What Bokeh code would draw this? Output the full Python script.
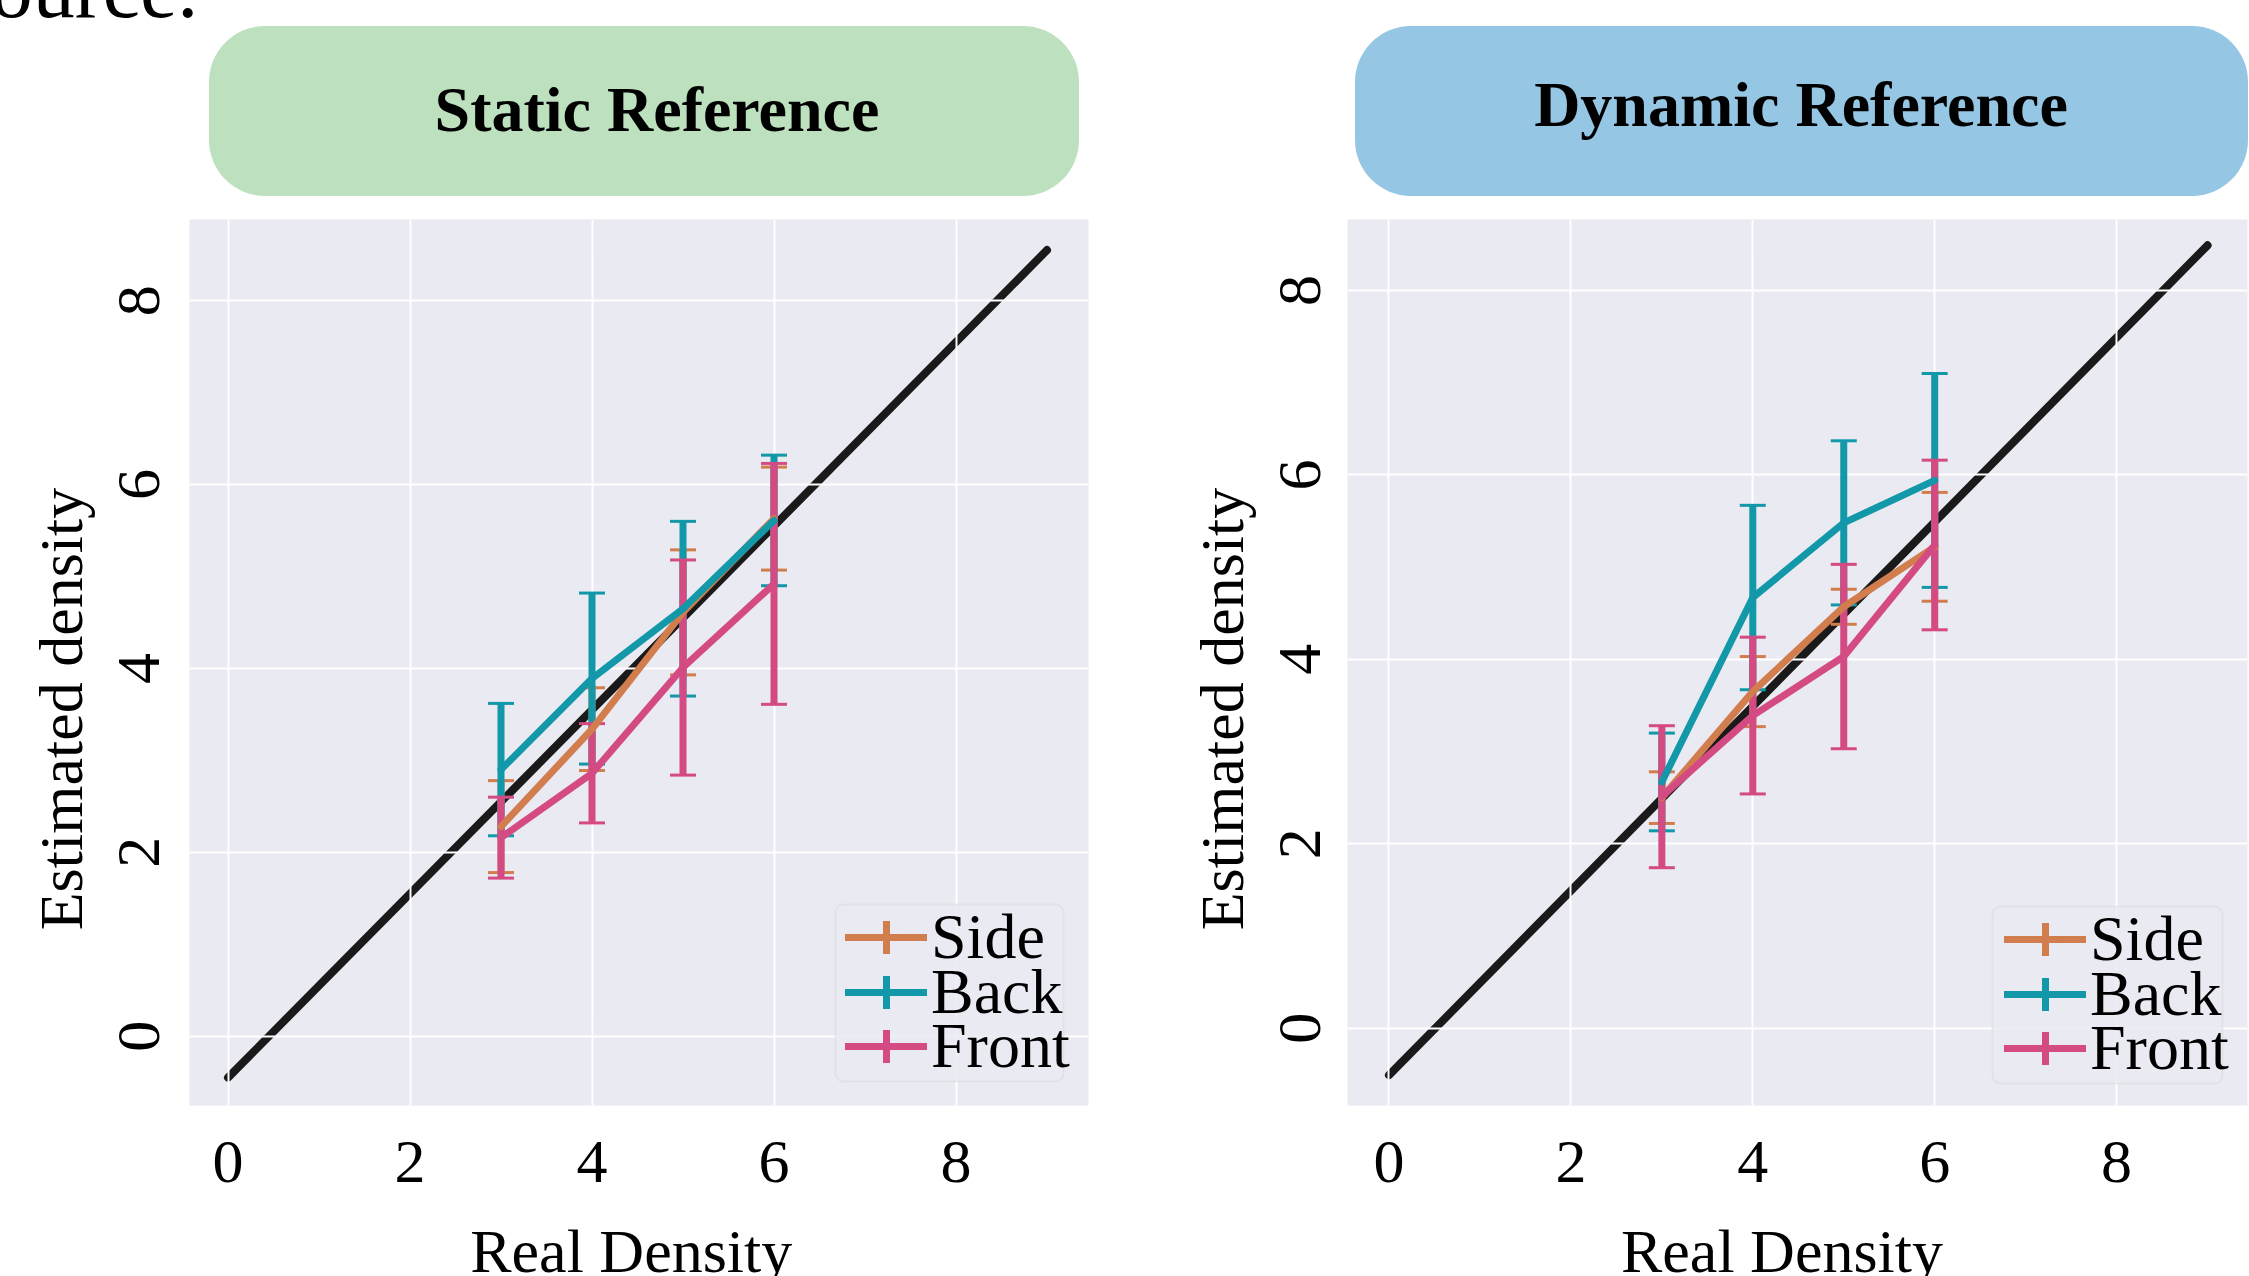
import math
from bokeh.plotting import figure
from bokeh.models import (ColumnDataSource, Whisker, TeeHead, Legend, LegendItem,
                          BoxAnnotation, Range1d, FixedTicker, Div)
from bokeh.layouts import column, row
from bokeh.embed import file_html
from bokeh.resources import INLINE

# ---------------- data ----------------
real_density = [3, 4, 5, 6]
ticks = [0, 2, 4, 6, 8]
series_names = ["Side", "Back", "Front"]

static_side_mean = [2.28, 3.34, 4.61, 5.63]
static_side_err = [0.50, 0.45, 0.68, 0.56]
static_back_mean = [2.90, 3.89, 4.65, 5.61]
static_back_err = [0.72, 0.93, 0.95, 0.71]
static_front_mean = [2.16, 2.86, 4.01, 4.92]
static_front_err = [0.44, 0.54, 1.17, 1.31]

dynamic_side_mean = [2.50, 3.65, 4.57, 5.22]
dynamic_side_err = [0.28, 0.38, 0.19, 0.59]
dynamic_back_mean = [2.67, 4.67, 5.48, 5.94]
dynamic_back_err = [0.53, 1.00, 0.89, 1.16]
dynamic_front_mean = [2.51, 3.39, 4.03, 5.24]
dynamic_front_err = [0.77, 0.85, 1.00, 0.92]

diag_x = [0, 9]
static_diag_y = [-0.45, 8.55]
dynamic_diag_y = [-0.51, 8.49]

x_label = "Real Density"
y_label = "Estimated density"

# ---------------- style ----------------
FONT = "Liberation Serif"
COLORS = {"Side": "#d27d4e", "Back": "#1298a8", "Front": "#d44a83"}
BG = "#eaeaf2"
NBSP = "\u00a0"


def make_panel(width, height, mb_left, mb_right, mb_top, mb_bottom,
               xr, yr, means, errs, diag_y, tick_standoff_y, xlabel_pad,
               legend_x, legend_ys, legend_box):
    p = figure(width=width, height=height, x_range=Range1d(*xr), y_range=Range1d(*yr),
               output_backend="svg", toolbar_location=None, tools="",
               min_border_left=mb_left, min_border_right=mb_right,
               min_border_top=mb_top, min_border_bottom=mb_bottom,
               background_fill_color=BG, border_fill_color="white",
               outline_line_color=None, margin=0)
    for ax in (p.xaxis[0], p.yaxis[0]):
        ax.ticker = FixedTicker(ticks=ticks)
        ax.axis_line_color = None
        ax.major_tick_line_color = None
        ax.minor_tick_line_color = None
        ax.major_tick_out = 0
        ax.major_tick_in = 0
        ax.major_label_text_font = FONT
        ax.major_label_text_font_size = "62px"
        ax.major_label_text_color = "black"
        ax.axis_label_text_font = FONT
        ax.axis_label_text_font_size = "62px"
        ax.axis_label_text_font_style = "normal"
        ax.axis_label_text_color = "black"
    p.xaxis[0].major_label_standoff = 36
    p.xaxis[0].axis_label = x_label + NBSP * xlabel_pad
    p.xaxis[0].axis_label_standoff = 32
    p.yaxis[0].major_label_standoff = tick_standoff_y
    p.yaxis[0].major_label_orientation = "vertical"
    p.yaxis[0].axis_label = y_label + NBSP * 6
    p.yaxis[0].axis_label_standoff = 22
    for g in (p.xgrid[0], p.ygrid[0]):
        g.ticker = FixedTicker(ticks=ticks)
        g.grid_line_color = "white"
        g.grid_line_width = 2

    # diagonal reference line
    p.line(diag_x, diag_y, line_color="#1a1a1a", line_width=8, line_cap="round", level="image")

    # error bars
    for name in series_names:
        c = COLORS[name]
        m, e = means[name], errs[name]
        src = ColumnDataSource(dict(x=real_density,
                                    lower=[a - b for a, b in zip(m, e)],
                                    upper=[a + b for a, b in zip(m, e)]))
        w = Whisker(source=src, base="x", lower="lower", upper="upper",
                    line_color=c, line_width=7,
                    upper_head=TeeHead(size=26, line_color=c, line_width=3),
                    lower_head=TeeHead(size=26, line_color=c, line_width=3),
                    level="underlay")
        p.add_layout(w)

    items = []
    for name in series_names:
        c = COLORS[name]
        lr = p.line(real_density, means[name], line_color=c, line_width=7,
                    line_cap="round", line_join="round")
        sr = p.scatter(real_density, means[name], marker="cross", size=0,
                       line_color=c, line_width=7)
        items.append(LegendItem(label=name, renderers=[lr, sr]))

    bl, br, bb, bt = legend_box
    p.add_layout(BoxAnnotation(left=bl, right=br, bottom=bb, top=bt,
                               left_units="screen", right_units="screen",
                               bottom_units="screen", top_units="screen",
                               fill_color=BG, fill_alpha=0.8,
                               line_color="#cccccc", line_width=2, border_radius=8))
    for item, ly in zip(items, legend_ys):
        legend = Legend(items=[item], location=(legend_x, ly), glyph_width=82, glyph_height=98,
                        spacing=0, padding=0, margin=0, label_standoff=4,
                        label_text_font=FONT, label_text_font_size="64px",
                        label_text_color="black",
                        background_fill_alpha=0, border_line_alpha=0)
        p.add_layout(legend)
    return p


static_means = {"Side": static_side_mean, "Back": static_back_mean, "Front": static_front_mean}
static_errs = {"Side": static_side_err, "Back": static_back_err, "Front": static_front_err}
dynamic_means = {"Side": dynamic_side_mean, "Back": dynamic_back_mean, "Front": dynamic_front_mean}
dynamic_errs = {"Side": dynamic_side_err, "Back": dynamic_back_err, "Front": dynamic_front_err}

p_left = make_panel(1167, 1089, 189, 79, 0, 200,
                    (-0.4231, 9.456), (-0.7534, 8.883),
                    static_means, static_errs, static_diag_y, 30, 1,
                    656, (119, 64, 10), (646, 874, 24, 201))
p_right = make_panel(1082, 1089, 180, 2, 1, 202,
                     (-0.456, 9.439), (-0.839, 8.770),
                     dynamic_means, dynamic_errs, dynamic_diag_y, 27, 2,
                     657, (117, 62, 8), (645, 875, 22, 199))

top_html = """
<div style="position:relative;width:2249px;height:218px;overflow:visible;">
  <div style="position:absolute;left:-42px;top:-53px;font-family:'Liberation Serif';font-size:84px;line-height:1;white-space:nowrap;color:#000;">source.</div>
  <div style="position:absolute;left:209px;top:26px;width:870px;height:170px;background:#bde1bf;border-radius:56px;"></div>
  <div style="position:absolute;left:1355px;top:26px;width:893px;height:170px;background:#95c6e3;border-radius:56px;"></div>
  <div style="position:absolute;left:157px;top:78px;width:1000px;text-align:center;font-family:'Liberation Serif';font-weight:bold;font-size:64px;line-height:64px;white-space:nowrap;color:#000;">Static Reference</div>
  <div style="position:absolute;left:1301px;top:73px;width:1000px;text-align:center;font-family:'Liberation Serif';font-weight:bold;font-size:64px;line-height:64px;white-space:nowrap;color:#000;">Dynamic Reference</div>
</div>
"""
top_div = Div(text=top_html, width=2249, height=218, margin=0)

layout = column(top_div, row(p_left, p_right, margin=0, spacing=0),
                margin=0, spacing=0, width=2249, height=1276,
                styles={"overflow": "hidden"})

open("out.html", "w").write(file_html(layout, INLINE))
